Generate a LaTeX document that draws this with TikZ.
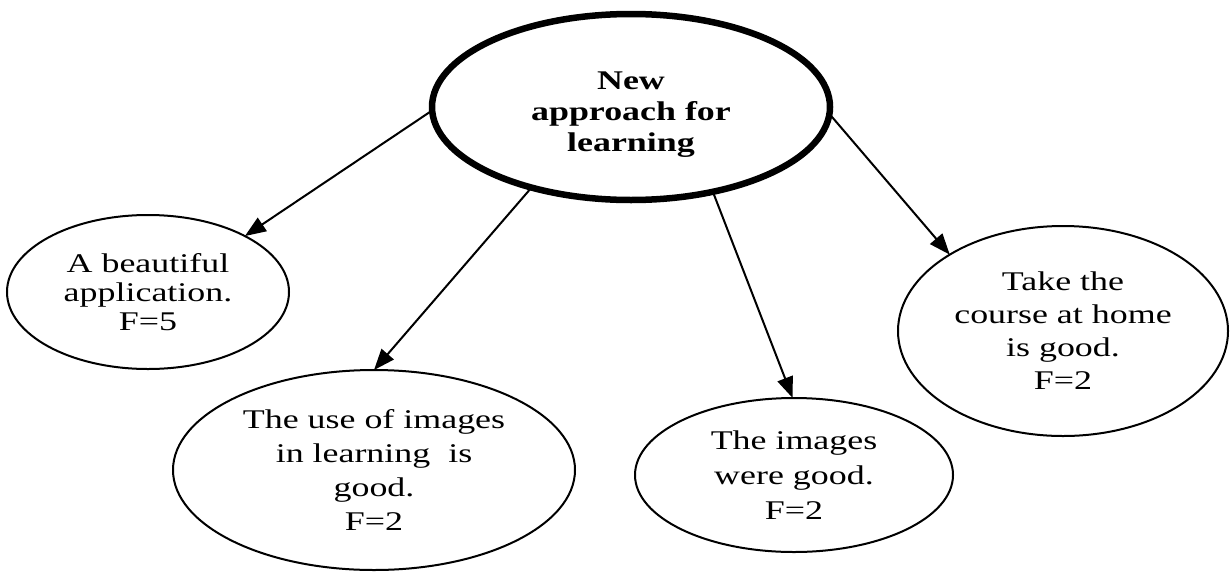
\documentclass[tikz,border=0pt]{standalone}
\usepackage{fontspec}
\setmainfont{Liberation Serif}[FakeStretch=1.33]
\usetikzlibrary{shapes.geometric,arrows.meta}
\begin{document}
\begin{tikzpicture}[x=1pt,y=-1pt,
  oval/.style={ellipse, draw, line width=2pt, inner sep=0pt, outer sep=0pt,
               align=center, font=\fontsize{27}{34}\selectfont},
  mainoval/.style={oval, line width=6.5pt},
  caption/.style={inner sep=0pt, align=center, font=\fontsize{27}{31}\selectfont\bfseries},
  link/.style={-{Triangle[length=21pt,width=16pt]}, line width=2pt}]
\useasboundingbox[fill=white] (0,0) rectangle (1230,573);

% central topic
\node[mainoval, minimum width=398pt, minimum height=186pt] (c) at (631,107) {};
\node[caption] (ct) at (631,115) {New\\approach for\\learning};

% opinions
\node[oval, minimum width=282pt, minimum height=154pt,
      font=\fontsize{27}{29}\selectfont] (l) at (148,292)
  {A beautiful\\application.\\F=5};
\node[oval, minimum width=402pt, minimum height=200pt] (bl) at (374,470)
  {The use of images\\in learning~ is\\good.\\F=2};
\node[oval, minimum width=318pt, minimum height=154pt,
      font=\fontsize{27}{35}\selectfont] (bm) at (794,475)
  {The images\\were good.\\F=2};
\node[oval, minimum width=330pt, minimum height=210pt,
      font=\fontsize{27}{33}\selectfont] (r) at (1063,331)
  {Take the\\course at home\\is good.\\F=2};

% connectors
\draw[link] (c.181) -- (l.30);
\draw[link] (c.219) -- (bl.90);
\draw[link] (c.314) -- (bm.91);
\draw[link] (c.358) -- (r.146);
\end{tikzpicture}
\end{document}
